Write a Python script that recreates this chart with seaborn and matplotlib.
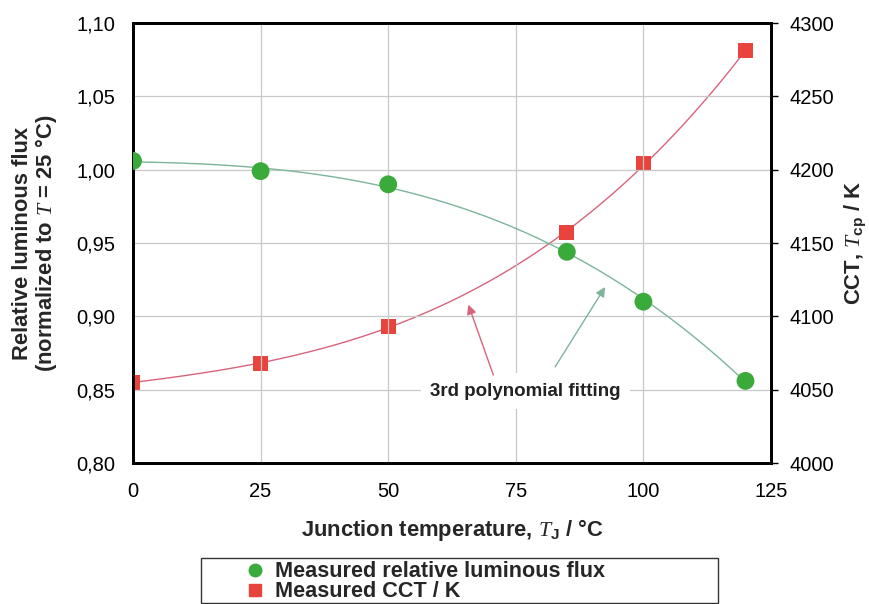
import numpy as np
import pandas as pd
import matplotlib
matplotlib.use("Agg")
import matplotlib.pyplot as plt
from matplotlib.lines import Line2D
from matplotlib.patches import Rectangle
import seaborn as sns

# Measured data
temperature = [0, 25, 50, 85, 100, 120]
rel_flux = [1.006, 0.999, 0.990, 0.944, 0.910, 0.856]
cct = [4055, 4068, 4093, 4157, 4204, 4281]

x_ticks = [0, 25, 50, 75, 100, 125]
flux_ticks = [0.80, 0.85, 0.90, 0.95, 1.00, 1.05, 1.10]
cct_ticks = [4000, 4050, 4100, 4150, 4200, 4250, 4300]

GREEN = "#3aaa3a"
RED = "#e8433c"
GREEN_FIT = "#7db49a"
RED_FIT = "#d8647c"

sns.set_theme(style="whitegrid")
plt.rcParams["font.family"] = ["Liberation Sans", "DejaVu Sans"]
plt.rcParams["mathtext.fontset"] = "custom"
plt.rcParams["mathtext.rm"] = "Liberation Sans:bold"
plt.rcParams["mathtext.bf"] = "Liberation Sans:bold"
plt.rcParams["mathtext.it"] = "Liberation Serif:italic"

df = pd.DataFrame({"T": temperature, "flux": rel_flux, "cct": cct})

# 3rd-order polynomial fits
t_fit = np.linspace(min(temperature), max(temperature), 200)
flux_fit = np.polyval(np.polyfit(temperature, rel_flux, 3), t_fit)
cct_fit = np.polyval(np.polyfit(temperature, cct, 3), t_fit)

fig = plt.figure(figsize=(8.7, 6.04), dpi=100)
ax = fig.add_axes([0.1529, 0.2334, 0.7333, 0.7285])
ax2 = ax.twinx()

sns.lineplot(x=t_fit, y=flux_fit, ax=ax, color=GREEN_FIT, lw=1.0, zorder=2)
sns.lineplot(x=t_fit, y=cct_fit, ax=ax2, color=RED_FIT, lw=1.0, zorder=2)
sns.scatterplot(data=df, x="T", y="flux", ax=ax, color=GREEN, marker="o",
                s=165, edgecolor="none", zorder=3)
sns.scatterplot(data=df, x="T", y="cct", ax=ax2, color=RED, marker="s",
                s=115, edgecolor="none", zorder=3)

ax.set_xlim(0, 125)
ax.set_ylim(0.80, 1.10)
ax2.set_ylim(4000, 4300)
ax.set_xticks(x_ticks)
ax.set_yticks(flux_ticks)
ax.set_yticklabels([f"{v:.2f}".replace(".", ",") for v in flux_ticks])
ax2.set_yticks(cct_ticks)
ax2.set_yticklabels([str(v) for v in cct_ticks])
ax2.grid(False)

ax.grid(True, color="#c8c8c8", lw=0.9)
for a in (ax, ax2):
    for sp in a.spines.values():
        sp.set_color("black")
        sp.set_linewidth(2.0)
ax.tick_params(axis="y", labelsize=14.5, colors="black", length=0, pad=13)
ax.tick_params(axis="x", labelsize=14.5, colors="black", length=0, pad=14)
ax2.tick_params(axis="y", labelsize=14.5, colors="black", right=True,
                direction="out", length=5, width=1, pad=8)

ax.set_xlabel(r"Junction temperature, $\mathit{T}_\mathrm{J}$ / °C",
              fontsize=15.8, fontweight="bold", labelpad=11)
ax.set_ylabel("Relative luminous flux\n" + r"(normalized to $\mathit{T}$ = 25 °C)",
              fontsize=15.8, fontweight="bold", labelpad=12, linespacing=1.0)
ax2.set_ylabel(r"CCT, $\mathit{T}_\mathrm{cp}$ / K", fontsize=15.8,
               fontweight="bold", rotation=90, labelpad=6)
ax.set_zorder(ax2.get_zorder() + 1)
ax.patch.set_visible(False)

# Annotation for the fitted curves
ax.text(76.9, 0.849, "3rd polynomial fitting", ha="center", va="center",
        fontsize=13.5, fontweight="bold", color="#222222",
        bbox=dict(boxstyle="square,pad=0.5", fc="white", ec="none"), zorder=5)
ax.annotate("", xy=(65.7, 0.908), xytext=(70.6, 0.860),
            arrowprops=dict(arrowstyle="-|>", color=RED_FIT, lw=1.0,
                            mutation_scale=14, shrinkA=0, shrinkB=0), zorder=5)
ax.annotate("", xy=(92.5, 0.920), xytext=(82.7, 0.8655),
            arrowprops=dict(arrowstyle="-|>", color=GREEN_FIT, lw=1.0,
                            mutation_scale=14, shrinkA=0, shrinkB=0), zorder=5)

# Legend: entries placed inside a wider box below the plot
fig.patches.append(Rectangle((0.231, 0.0017), 0.594, 0.0745,
                             transform=fig.transFigure, fill=False,
                             edgecolor="#333333", lw=1.0))
handles = [
    Line2D([], [], ls="none", marker="o", color=GREEN, markersize=9),
    Line2D([], [], ls="none", marker="s", color=RED, markersize=8),
]
fig.legend(handles, ["Measured relative luminous flux", "Measured CCT / K"],
           loc="lower left", bbox_to_anchor=(0.2787, 0.003),
           borderaxespad=0, frameon=False, handletextpad=0.33,
           handlelength=1.15, borderpad=0.0, labelspacing=-0.05,
           prop={"weight": "bold", "size": 15.6})

fig.savefig("out.png", dpi=100)
